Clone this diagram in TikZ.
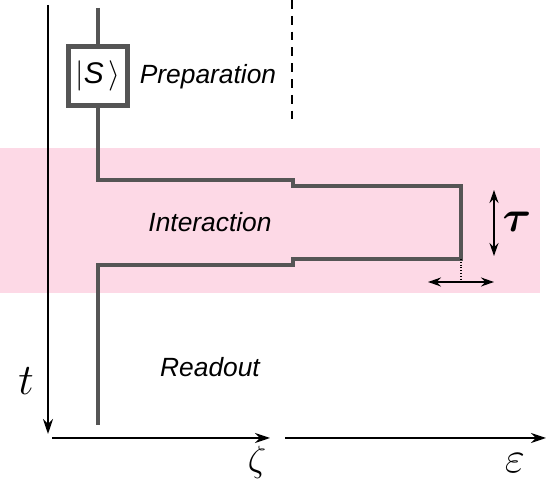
\documentclass[tikz,border=0pt]{standalone}
\usepackage{fontspec}
\setsansfont{Liberation Sans}
\usepackage{amsmath}
\usepackage{bm}
\usetikzlibrary{arrows.meta, positioning}
\definecolor{bandpink}{RGB}{253,217,230}
\definecolor{wiregray}{RGB}{85,85,85}

\begin{document}
\begin{tikzpicture}[
    x=0.02cm, y=-0.02cm,
    wire/.style={wiregray, line width=2.3pt},
    axis/.style={-{Stealth[length=3mm, width=2mm]}, line width=0.9pt},
    span/.style={{Stealth[length=2.6mm, width=1.8mm]}-{Stealth[length=2.6mm, width=1.8mm]}, line width=0.9pt},
    phase/.style={font=\sffamily\itshape\fontsize{15}{18}\selectfont},
    sym/.style={font=\fontsize{#1}{28}\selectfont, inner sep=0pt},
    sym/.default=24,
]
\useasboundingbox (0,0) rectangle (552,479);

% Interaction band
\fill[bandpink] (0,148) rectangle (540,293);

% State preparation
\node[draw=wiregray, line width=2.3pt, fill=white, minimum size=1.18cm, inner sep=0pt,
      font=\sffamily\fontsize{17}{20}\selectfont] (ket) at (98,76) {$|$\textit{S}$\,\rangle$};
\coordinate (top) at (98,8);
\coordinate (bot) at (98,425);
\node[phase] (prep) at (208,77) {Preparation};
\node[phase] (inter) at (210,222) {Interaction};
\node[phase] (read) at (210,367) {Readout};
\draw[dash pattern=on 5pt off 4pt, line width=1pt] (292,0) -- (292,120);

% Wave packet path
\draw[wire] (top) -- (ket);
\draw[wire] (ket) -- (98,180) -- (293,180) -- (293,186) -- (461,186) -- (461,259)
    -- (293,259) -- (293,265) -- (98,265) -- (bot);
\coordinate (corner) at (461,259);
\coordinate (tick) at (461,282);
\draw[densely dotted, line width=0.6pt] (corner) -- (tick);

% Spans
\coordinate (spanl) at (428,282);
\coordinate (spanr) at (494,282);
\draw[span] (spanl) -- (spanr);
\coordinate (taut) at (494,190);
\coordinate (taub) at (494,256);
\draw[span] (taut) -- (taub);
\node[sym] (tau) at (517,222) {$\bm{\tau}$};

% Axes
\coordinate (torig) at (48,5);
\coordinate (tend) at (48,434);
\draw[axis] (torig) -- (tend);
\node[sym] (tlab) at (26,381) {$t$};
\coordinate (zorig) at (52,438);
\coordinate (zend) at (270,438);
\draw[axis] (zorig) -- (zend);
\node[sym=21] (zlab) at (257,462) {$\zeta$};
\coordinate (eorig) at (285,438);
\coordinate (eend) at (546,438);
\draw[axis] (eorig) -- (eend);
\node[sym=24] (elab) at (515,463) {$\varepsilon$};

\end{tikzpicture}
\end{document}
